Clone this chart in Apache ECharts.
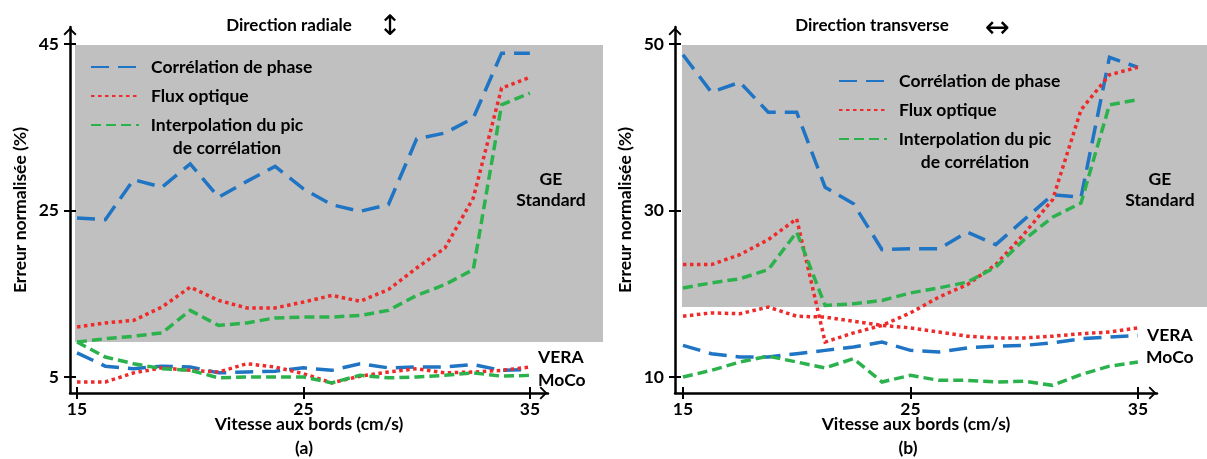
<!DOCTYPE html>
<html><head><meta charset="utf-8">
<script src="https://cdn.jsdelivr.net/npm/echarts@6/dist/echarts.min.js"></script>
<style>html,body{margin:0;padding:0;background:#fff}#c{width:1207px;height:459px}</style>
</head><body><div id="c"></div>
<script>
// ---------- data ----------
const speeds = [15, 16.25, 17.5, 18.75, 20, 21.25, 22.5, 23.75, 25, 26.25, 27.5, 28.75, 30, 31.25, 32.5, 33.75, 35];
const xTicks = [15, 25, 35];
const yTicksA = [5, 25, 45];
const yTicksB = [10, 30, 50];
const NAMES = ['Corrélation de phase', 'Flux optique', 'Interpolation du pic de corrélation'];

// (a) Direction radiale
const aPhaseGE   = [24.1, 23.9, 28.7, 27.8, 30.6, 26.6, 28.5, 30.3, 27.6, 25.7, 24.9, 25.7, 33.6, 34.3, 36.1, 43.9, 43.9];
const aFluxGE    = [11.0, 11.5, 11.8, 13.4, 15.8, 14.2, 13.3, 13.3, 14.0, 14.8, 14.1, 15.5, 18.1, 20.5, 26.5, 39.7, 41.0];
const aInterpGE  = [9.2, 9.6, 9.9, 10.3, 13.0, 11.2, 11.5, 12.1, 12.2, 12.2, 12.4, 13.0, 14.8, 16.1, 17.9, 37.7, 39.1];
const aPhaseLow  = [7.9, 6.3, 6.0, 6.3, 6.2, 5.5, 5.6, 5.7, 6.1, 5.8, 6.6, 6.1, 6.2, 6.2, 6.5, 5.8, 5.9];
const aFluxLow   = [4.4, 4.4, 5.5, 6.1, 5.8, 5.6, 6.6, 6.2, 5.4, 4.3, 5.1, 5.6, 6.0, 5.5, 5.6, 5.8, 6.2];
const aInterpLow = [9.2, 7.4, 6.6, 6.0, 5.8, 4.9, 5.0, 5.0, 5.0, 4.3, 5.2, 4.9, 5.0, 5.2, 5.5, 5.1, 5.2];

// (b) Direction transverse
const bPhaseGE   = [48.7, 44.2, 45.4, 41.8, 41.8, 32.8, 30.8, 25.3, 25.4, 25.4, 27.4, 25.9, 28.9, 31.9, 31.6, 48.4, 47.2];
const bFluxGE    = [23.5, 23.5, 24.7, 26.5, 29.0, 14.2, 15.3, 16.2, 17.7, 19.6, 21.1, 23.5, 27.2, 31.3, 42.1, 46.3, 47.2];
const bInterpGE  = [20.7, 21.3, 21.8, 22.9, 27.4, 18.6, 18.8, 19.2, 20.1, 20.7, 21.4, 23.2, 26.5, 29.2, 30.9, 42.7, 43.3];
const bPhaseLow  = [13.8, 12.8, 12.4, 12.4, 12.8, 13.2, 13.6, 14.2, 13.2, 13.0, 13.5, 13.7, 13.8, 14.1, 14.6, 14.8, 15.0];
const bFluxLow   = [17.3, 17.7, 17.6, 18.4, 17.3, 17.2, 16.7, 16.2, 15.9, 15.4, 14.9, 14.7, 14.7, 14.9, 15.2, 15.4, 15.9];
const bInterpLow = [10.0, 10.8, 11.8, 12.5, 11.8, 11.1, 12.2, 9.4, 10.2, 9.6, 9.6, 9.4, 9.5, 9.0, 10.3, 11.3, 11.8];

// ---------- styling ----------
const FONT = 'Lato, "Open Sans", sans-serif';
const STY = {
  phase:  {color: '#1f74c4', type: [18, 9]},
  flux:   {color: '#ee2a2a', type: [3.5, 3.5]},
  interp: {color: '#2cb24c', type: [10, 5]}
};
const ARROW = 'path://M0,0 L7,7 L5.6,8.4 L0,2.8 L-5.6,8.4 L-7,7 Z';
const txt = (size) => ({fontFamily: FONT, fontWeight: 'bold', fontSize: size, color: '#000'});

function line(name, values, gi, key) {
  const s = STY[key];
  return {
    type: 'line', name, xAxisIndex: gi, yAxisIndex: gi,
    data: speeds.map((x, i) => [x, values[i]]),
    symbol: 'none', showSymbol: false, z: 3, animation: false,
    lineStyle: {color: s.color, width: 3.5, type: s.type, cap: 'butt', join: 'miter'},
    itemStyle: {color: s.color},
    emphasis: {disabled: true}
  };
}
function xMain(gi, min, max) {
  return {
    type: 'value', gridIndex: gi, min, max, position: 'bottom',
    axisLine: {show: true, onZero: false, lineStyle: {color: '#000', width: 2.5},
      symbol: ['none', ARROW], symbolSize: [13, 9], symbolOffset: [0, -4.5]},
    axisTick: {show: true, customValues: xTicks, length: 6, lineStyle: {color: '#000', width: 2}},
    axisLabel: Object.assign({show: true, customValues: xTicks, margin: 7}, txt(17.5)),
    splitLine: {show: false},
    name: 'Vitesse aux bords (cm/s)', nameLocation: 'middle', nameGap: 22, nameMoveOverlap: false,
    nameTextStyle: txt(17.5)
  };
}
function xTickIn(gi, min, max) {
  return {type: 'value', gridIndex: gi, min, max, position: 'bottom',
    axisLine: {show: false, onZero: false},
    axisTick: {show: true, inside: true, customValues: xTicks, length: 6, lineStyle: {color: '#000', width: 2}},
    axisLabel: {show: false}, splitLine: {show: false}};
}
function yMain(gi, min, max, ticks) {
  return {
    type: 'value', gridIndex: gi, min, max, position: 'left',
    axisLine: {show: true, onZero: false, lineStyle: {color: '#000', width: 2.5},
      symbol: ['none', ARROW], symbolSize: [13, 9], symbolOffset: [0, -4.5]},
    axisTick: {show: true, customValues: ticks, length: 6, lineStyle: {color: '#000', width: 2}},
    axisLabel: Object.assign({show: true, customValues: ticks, margin: 11}, txt(17.5)),
    splitLine: {show: false},
    name: 'Erreur normalisée (%)', nameLocation: 'middle', nameGap: 41, nameMoveOverlap: false,
    nameTextStyle: txt(17.5)
  };
}
function yTickIn(gi, min, max, ticks) {
  return {type: 'value', gridIndex: gi, min, max, position: 'left',
    axisLine: {show: false, onZero: false},
    axisTick: {show: true, inside: true, customValues: ticks, length: 6, lineStyle: {color: '#000', width: 2}},
    axisLabel: {show: false}, splitLine: {show: false}};
}
function hidden(gi) {
  return {type: 'value', gridIndex: gi, min: 0, max: 1, show: false};
}
function legend(left, top) {
  return {
    show: true, orient: 'vertical', left, top, padding: 0, itemGap: -40,
    itemWidth: 48, itemHeight: 14, selectedMode: false,
    itemStyle: {opacity: 0},
    textStyle: Object.assign(txt(17.5), {lineHeight: 23, padding: [23, 0, 23, 7],
      rich: {c: Object.assign(txt(17.5), {lineHeight: 23, width: 152, align: 'center'})}}),
    data: [{name: NAMES[0]}, {name: NAMES[1]}, {name: NAMES[2], textStyle: {padding: [23, 0, 0, 7]}}],
    formatter: n => n === NAMES[2] ? '{c|Interpolation du pic}\n{c|de corrélation}' : n
  };
}
function label(x, y, text, size, align, family, weight) {
  return {type: 'text', x, y, z: 10, silent: true,
    style: {text, fill: '#000', align: align || 'center', verticalAlign: 'middle',
      font: (weight || 'bold') + ' ' + size + 'px ' + (family || FONT)}};
}

const option = {
  backgroundColor: '#fff',
  animation: false,
  grid: [
    {left: 70, top: 27, width: 478, height: 366},
    {left: 675, top: 27, width: 482, height: 366},
    {left: 75, top: 45, width: 528, height: 297, show: true, backgroundColor: '#c0c0c0', borderWidth: 0},
    {left: 682, top: 45, width: 525, height: 262, show: true, backgroundColor: '#c0c0c0', borderWidth: 0}
  ],
  xAxis: [xMain(0, 14.69, 35.8), xMain(1, 14.65, 35.84), xTickIn(0, 14.69, 35.8), xTickIn(1, 14.65, 35.84), hidden(2), hidden(3)],
  yAxis: [yMain(0, 3.08, 47.04, yTicksA), yMain(1, 8.08, 52.04, yTicksB), yTickIn(0, 3.08, 47.04, yTicksA), yTickIn(1, 8.08, 52.04, yTicksB), hidden(2), hidden(3)],
  legend: [legend(90, 32.5), legend(838, 46.5)],
  series: [
    line(NAMES[0], aPhaseGE, 0, 'phase'),
    line(NAMES[1], aFluxGE, 0, 'flux'),
    line(NAMES[2], aInterpGE, 0, 'interp'),
    line(NAMES[0], aPhaseLow, 0, 'phase'),
    line(NAMES[1], aFluxLow, 0, 'flux'),
    line(NAMES[2], aInterpLow, 0, 'interp'),
    line(NAMES[0], bPhaseGE, 1, 'phase'),
    line(NAMES[1], bFluxGE, 1, 'flux'),
    line(NAMES[2], bInterpGE, 1, 'interp'),
    line(NAMES[0], bPhaseLow, 1, 'phase'),
    line(NAMES[1], bFluxLow, 1, 'flux'),
    line(NAMES[2], bInterpLow, 1, 'interp')
  ],
  graphic: [
    label(289, 26, 'Direction radiale', 17),
    label(390, 28, '↕', 28, 'center', '"DejaVu Sans"', 'normal'),
    label(872, 26, 'Direction transverse', 17),
    label(997, 29, '↔', 30, 'center', '"DejaVu Sans"', 'normal'),
    label(551, 179, 'GE', 17.5),
    label(551, 200, 'Standard', 17.5),
    label(1160, 179, 'GE', 17.5),
    label(1160, 200, 'Standard', 17.5),
    label(538, 357, 'VERA', 17.5, 'left'),
    label(538, 380, 'MoCo', 17.5, 'left'),
    label(1147, 335, 'VERA', 17.5, 'left'),
    label(1146, 357, 'MoCo', 17.5, 'left'),
    label(304, 448, '(a)', 17.5),
    label(908, 448, '(b)', 17.5)
  ]
};
const chart = echarts.init(document.getElementById('c'), null, {renderer: 'canvas'});
chart.setOption(option);
</script>
</body></html>
